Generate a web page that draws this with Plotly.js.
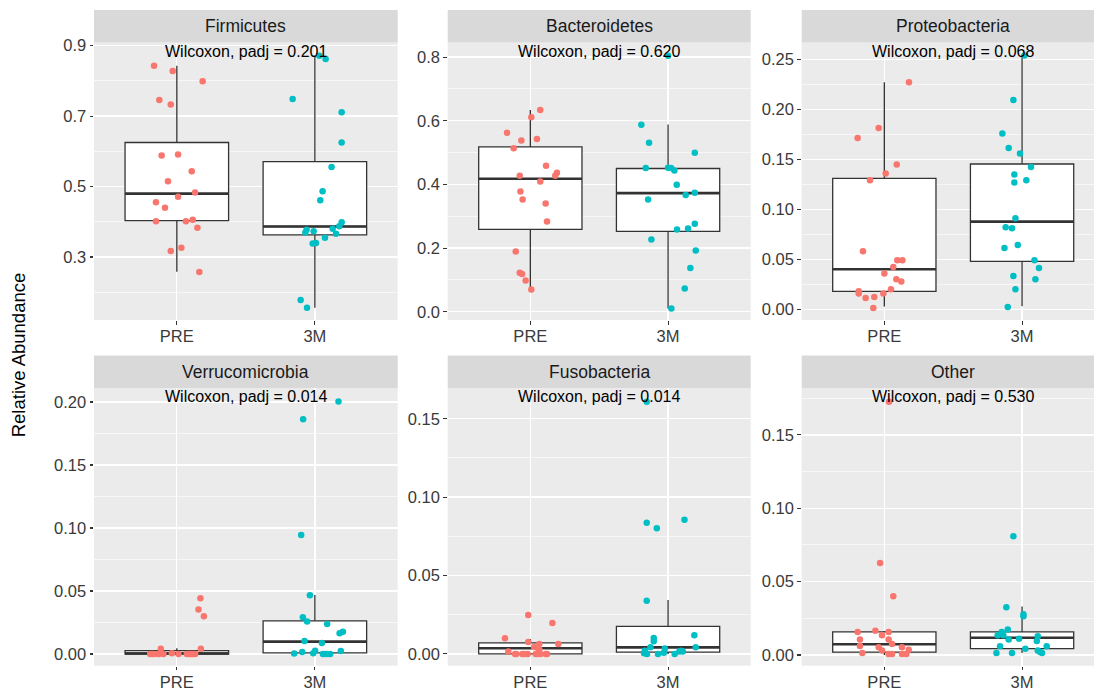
<!DOCTYPE html>
<html>
<head>
<meta charset="utf-8">
<script src="https://cdn.plot.ly/plotly-3.0.1.min.js"></script>
<style>
  html, body { margin: 0; padding: 0; background: #ffffff; overflow: hidden; }
  #chart { width: 1105px; height: 691px; }
</style>
</head>
<body>
<div id="chart"></div>
<script>
// ---------------- data ----------------
const groups = ['PRE', '3M'];
const phyla = ['Firmicutes', 'Bacteroidetes', 'Proteobacteria', 'Verrucomicrobia', 'Fusobacteria', 'Other'];
const padj = ['0.201', '0.620', '0.068', '0.014', '0.014', '0.530'];

// box statistics per phylum (order as in phyla)
const lowerPRE  = [0.258, 0.070, 0.0027, 0, 0, 0];
const q1PRE     = [0.403, 0.2586, 0.018, 0, 0, 0.002];
const medianPRE = [0.480, 0.418, 0.040, 0.0004, 0.0036, 0.0073];
const q3PRE     = [0.625, 0.518, 0.131, 0.0027, 0.007, 0.0157];
const upperPRE  = [0.843, 0.6335, 0.227, 0.0045, 0.0096, 0.0163];

const lower3M  = [0.156, 0.0105, 0.003, 0, 0, 0.0014];
const q13M     = [0.363, 0.2524, 0.048, 0.0008, 0.0011, 0.0043];
const median3M = [0.3865, 0.3728, 0.0877, 0.0098, 0.0042, 0.0118];
const q33M     = [0.571, 0.450, 0.1453, 0.0262, 0.0176, 0.0157];
const upper3M  = [0.872, 0.5885, 0.2543, 0.0468, 0.0344, 0.033];

// sample values and the horizontal jitter
const firmicutesPRE = [0.843,0.828,0.799,0.746,0.733,0.588,0.591,0.5435,0.515,0.483,0.471,0.4556,0.4395,0.4017,0.4017,0.4054,0.3827,0.3166,0.326,0.257];
const firmicutesPREJitter = [-0.165,-0.03,0.187,-0.127,-0.044,-0.11,0.009,0.108,-0.064,0.132,0.009,-0.151,-0.086,-0.151,0.066,0.115,0.149,-0.044,0.033,0.163];
const firmicutes3M = [0.8716,0.862,0.7487,0.711,0.6248,0.5558,0.4868,0.4612,0.3988,0.3875,0.380,0.3657,0.3544,0.3733,0.377,0.3695,0.3383,0.340,0.1776,0.1558];
const firmicutes3MJitter = [0.032,0.078,-0.161,0.194,0.194,0.121,0.056,0.039,0.194,0.177,0.129,0.153,0.073,-0.009,-0.06,-0.069,-0.016,0.008,-0.103,-0.057];

const bacteroidetesPRE = [0.6335,0.6115,0.5623,0.538,0.5424,0.514,0.4586,0.4272,0.4366,0.4272,0.4094,0.378,0.3529,0.3403,0.2838,0.1895,0.1225,0.1183,0.0984,0.0702];
const bacteroidetesPREJitter = [0.072,0.007,-0.169,-0.065,0.048,-0.121,0.114,-0.077,0.193,0.181,0.072,-0.072,-0.056,0.111,0.121,-0.106,-0.077,-0.06,-0.034,0.007];
const bacteroidetes3M = [0.804,0.5874,0.5309,0.4995,0.4513,0.4524,0.4513,0.444,0.399,0.3529,0.3665,0.3738,0.2586,0.2618,0.2764,0.2272,0.1927,0.1372,0.0733,0.0105];
const bacteroidetes3MJitter = [0,-0.194,-0.138,0.194,-0.162,0,0.022,0.046,0.063,-0.145,0.128,0.194,0.065,0.145,0.194,-0.121,0.201,0.162,0.121,0.024];

const proteobacteriaPRE = [0.227,0.1813,0.1713,0.1447,0.1357,0.129,0.058,0.049,0.049,0.0423,0.0357,0.030,0.0277,0.020,0.0157,0.018,0.0157,0.0113,0.0123,0.0013];
const proteobacteriaPREJitter = [0.179,-0.041,-0.194,0.09,0.01,-0.104,-0.155,0.094,0.131,0.065,0,0.087,0.123,0.048,-0.007,-0.186,-0.186,-0.136,-0.073,-0.08];
const proteobacteria3M = [0.2537,0.2093,0.1757,0.1613,0.1557,0.1423,0.1347,0.1267,0.129,0.091,0.082,0.081,0.0643,0.0613,0.049,0.0413,0.0333,0.030,0.020,0.0023];
const proteobacteria3MJitter = [0.017,-0.063,-0.143,-0.097,-0.015,0.065,-0.056,-0.056,0.031,-0.048,-0.119,-0.073,-0.031,-0.128,0.09,0.123,-0.063,0.097,-0.048,-0.104];

const verrucomicrobiaPRE = [0.0442,0.0354,0.0299,0.0042,0.0042,0.0005,0,0,0,0,0,0,0,0,0,0,0,0,0,0];
const verrucomicrobiaPREJitter = [0.171,0.157,0.196,-0.116,0.174,-0.036,-0.193,-0.169,-0.14,-0.097,0.012,0.085,0.101,0.121,0.133,0.072,-0.181,-0.128,0.092,0.111];
const verrucomicrobia3M = [0.2003,0.1862,0.0944,0.0466,0.0291,0.0257,0.0238,0.0177,0.0164,0.0103,0.0087,0.0024,0.0016,0.0026,0.0005,0.0003,0,0,0,0];
const verrucomicrobia3MJitter = [0.171,-0.085,-0.099,-0.036,-0.087,-0.056,0.089,0.203,0.179,-0.075,0.051,0.188,-0.092,0.002,-0.012,-0.15,0.058,0.075,0.092,0.111];

const fusobacteriaPRE = [0.0249,0.0198,0.010,0.0076,0.0064,0.0064,0.0045,0.0028,0.0015,0,0,0,0,0,0.0008,0,0,0,0,0];
const fusobacteriaPREJitter = [-0.015,0.16,-0.184,-0.015,0.065,0.203,0.027,0.065,-0.16,-0.111,-0.058,-0.019,0.048,0.121,0.056,-0.102,-0.041,0.039,0.111,0.073];
const fusobacteria3M = [0.1608,0.0856,0.0837,0.0801,0.034,0.0119,0.0102,0.0081,0.0042,0.0042,0.0034,0.0021,0.0015,0.0021,0.0004,0,0,0.0008,0,0.0015];
const fusobacteria3MJitter = [-0.155,0.119,-0.155,-0.082,-0.155,0.191,-0.104,-0.104,0.201,-0.128,-0.024,0.094,0.107,-0.169,-0.174,-0.153,-0.073,-0.031,0.048,0.082];

const otherPRE = [0.1727,0.0627,0.040,0.0157,0.0166,0.0157,0.0134,0.0105,0.0105,0.0075,0.0061,0.0052,0.0052,0.003,0.0036,0.0014,0.0007,0.0007,0.0007,0.0007];
const otherPREJitter = [0.034,-0.031,0.065,-0.194,-0.065,0.031,-0.017,-0.177,0.031,0.056,-0.177,-0.041,0.128,-0.017,0.177,-0.16,0.031,0.056,0.128,0.16];
const other3M = [0.0809,0.0325,0.0277,0.0264,0.0173,0.0157,0.0134,0.0134,0.0127,0.0111,0.0105,0.0095,0.0059,0.0059,0.0043,0.003,0.002,0.0014,0.0014,0.0014];
const other3MJitter = [-0.063,-0.114,0.01,0.01,-0.104,-0.148,-0.177,-0.136,0.114,-0.022,-0.097,0.107,0.179,-0.16,0.024,0.114,0.131,0.145,-0.186,-0.073];

const samplesPRE = [firmicutesPRE, bacteroidetesPRE, proteobacteriaPRE, verrucomicrobiaPRE, fusobacteriaPRE, otherPRE];
const jitterPRE = [firmicutesPREJitter, bacteroidetesPREJitter, proteobacteriaPREJitter, verrucomicrobiaPREJitter, fusobacteriaPREJitter, otherPREJitter];
const samples3M = [firmicutes3M, bacteroidetes3M, proteobacteria3M, verrucomicrobia3M, fusobacteria3M, other3M];
const jitter3M = [firmicutes3MJitter, bacteroidetes3MJitter, proteobacteria3MJitter, verrucomicrobia3MJitter, fusobacteria3MJitter, other3MJitter];

// ---------------- layout / style ----------------
const W = 1105, H = 691;
const colX = [[94, 397.7], [447.7, 750.7], [801.7, 1104.7]];
const rowY = [[42.5, 320], [388, 665.7]];
const stripH = 32.5;
const yRanges = [[0.121, 0.909], [-0.026, 0.846], [-0.0107, 0.2668], [-0.0093, 0.2111], [-0.0075, 0.1696], [-0.0073, 0.182]];
const yTick0 = [0.1, 0, 0, 0, 0, 0];
const yDtick = [0.2, 0.2, 0.05, 0.05, 0.05, 0.05];
const yMinor = [0.1, 0.1, 0.025, 0.025, 0.025, 0.025];
const yFmt = ['.1f', '.1f', '.2f', '.2f', '.2f', '.2f'];
const colors = {PRE: '#F8766D', '3M': '#00BFC4'};
const FONT = 'Liberation Sans, Arial, sans-serif';
const TICKCOL = '#3A3A3A';
const boxWidth = 0.75;

const data = [];
const layout = {
  width: W, height: H,
  margin: {l: 0, r: 0, t: 0, b: 0},
  paper_bgcolor: '#ffffff',
  plot_bgcolor: '#EBEBEB',
  showlegend: false,
  font: {family: FONT, size: 16, color: TICKCOL},
  shapes: [], annotations: []
};

phyla.forEach((name, i) => {
  const col = i % 3, row = Math.floor(i / 3);
  const sfx = i === 0 ? '' : String(i + 1);
  const xa = 'x' + sfx, ya = 'y' + sfx;
  const [x0, x1] = colX[col];
  const [t, b] = rowY[row];
  const plotH = b - t;

  layout['xaxis' + sfx] = {
    domain: [x0 / W, x1 / W], anchor: ya, range: [0.4, 2.6],
    tickvals: [1, 2], ticktext: groups,
    showgrid: true, gridcolor: '#FFFFFF', gridwidth: 1.3,
    zeroline: false, showline: false,
    ticks: 'outside', ticklen: 3.5, tickwidth: 1.1, tickcolor: '#333333',
    ticklabelstandoff: -2,
    tickfont: {family: FONT, size: 16.5, color: TICKCOL},
    fixedrange: true
  };
  layout['yaxis' + sfx] = {
    domain: [1 - b / H, 1 - t / H], anchor: xa, range: yRanges[i],
    tick0: yTick0[i], dtick: yDtick[i], tickformat: yFmt[i],
    showgrid: true, gridcolor: '#FFFFFF', gridwidth: 1.3,
    minor: {dtick: yMinor[i], tick0: 0, showgrid: true, gridcolor: '#FFFFFF', gridwidth: 0.6, ticks: ''},
    zeroline: false, showline: false,
    ticks: 'outside', ticklen: 3.5, tickwidth: 1.1, tickcolor: '#333333',
    tickfont: {family: FONT, size: 16.5, color: TICKCOL},
    fixedrange: true
  };

  // strip
  layout.shapes.push({
    type: 'rect', xref: xa + ' domain', yref: ya + ' domain',
    x0: 0, x1: 1, y0: 1, y1: 1 + stripH / plotH,
    fillcolor: '#D9D9D9', line: {width: 0}, layer: 'below'
  });
  layout.annotations.push({
    xref: xa + ' domain', yref: ya + ' domain', x: 0.5, y: 1 + stripH / 2 / plotH,
    xanchor: 'center', yanchor: 'middle', showarrow: false,
    text: name, font: {family: FONT, size: 17.5, color: '#1A1A1A'}
  });
  layout.annotations.push({
    xref: xa + ' domain', yref: ya + ' domain', x: 0.5, y: 1, yshift: -8.5,
    xanchor: 'center', yanchor: 'middle', showarrow: false,
    text: 'Wilcoxon, padj = ' + padj[i], font: {family: FONT, size: 16, color: '#000000'}
  });

  // boxes
  data.push({
    type: 'box', xaxis: xa, yaxis: ya,
    x: [1, 2],
    lowerfence: [lowerPRE[i], lower3M[i]],
    q1: [q1PRE[i], q13M[i]],
    median: [medianPRE[i], median3M[i]],
    q3: [q3PRE[i], q33M[i]],
    upperfence: [upperPRE[i], upper3M[i]],
    width: boxWidth, whiskerwidth: 0,
    fillcolor: '#FFFFFF', line: {color: '#333333', width: 1.3},
    boxpoints: false, hoverinfo: 'skip'
  });
  // thicker median line (ggplot fatten)
  const meds = [medianPRE[i], median3M[i]];
  data.push({
    type: 'scatter', mode: 'lines', xaxis: xa, yaxis: ya,
    x: [1 - boxWidth / 2, 1 + boxWidth / 2, null, 2 - boxWidth / 2, 2 + boxWidth / 2],
    y: [meds[0], meds[0], null, meds[1], meds[1]],
    line: {color: '#333333', width: 2.6}, hoverinfo: 'skip'
  });
  // jittered points
  [[samplesPRE[i], jitterPRE[i], 1, 'PRE'], [samples3M[i], jitter3M[i], 2, '3M']].forEach(([vals, jit, gx, g]) => {
    data.push({
      type: 'scatter', mode: 'markers', xaxis: xa, yaxis: ya,
      x: vals.map((v, k) => gx + jit[k]), y: vals,
      marker: {color: colors[g], size: 6.5, line: {width: 0}},
      hoverinfo: 'skip'
    });
  });
});

// y-axis title
layout.annotations.push({
  xref: 'paper', yref: 'paper', x: 18.3 / W, y: 1 - 355 / H,
  xanchor: 'center', yanchor: 'middle', textangle: -90, showarrow: false,
  text: 'Relative Abundance', font: {family: FONT, size: 18.5, color: '#000000'}
});

Plotly.newPlot('chart', data, layout, {staticPlot: true, displayModeBar: false});
</script>
</body>
</html>
